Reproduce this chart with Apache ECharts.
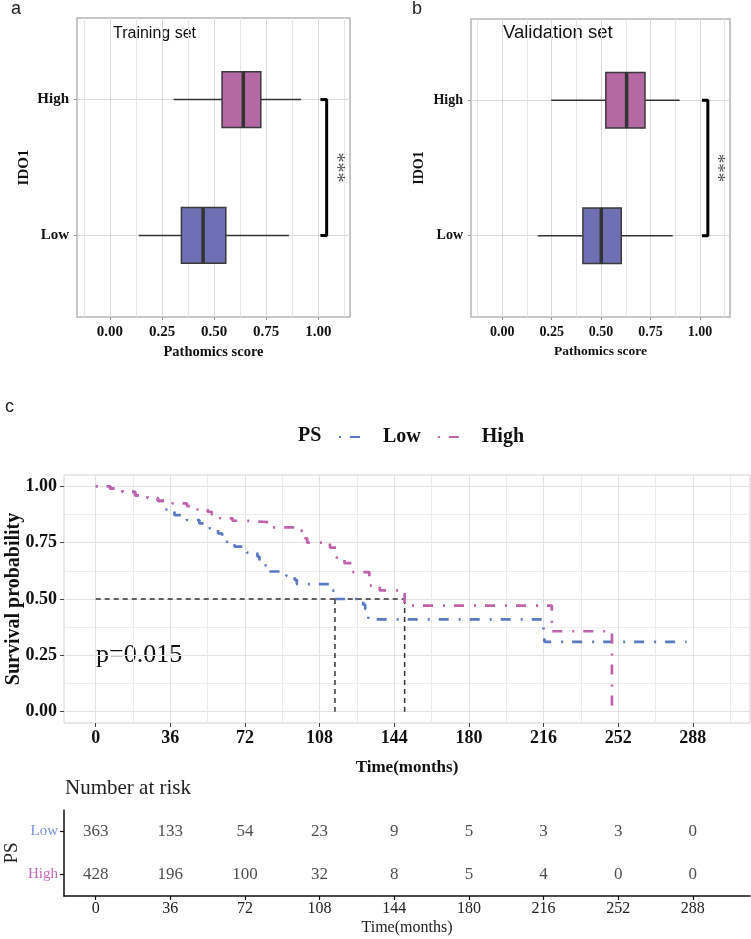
<!DOCTYPE html>
<html>
<head>
<meta charset="utf-8">
<script src="https://cdn.jsdelivr.net/npm/echarts@6/dist/echarts.min.js"></script>
<style>
html,body{margin:0;padding:0;background:#fff}
#chart{width:751px;height:939px}
</style>
</head>
<body>
<div id="chart"></div>
<script>
// 箱线图数据 [min, q1, median, q3, max]，顺序 Low, High
const groups = ['Low', 'High']
const trainBox = [
	[0.138, 0.343, 0.447, 0.556, 0.859],
	[0.306, 0.538, 0.640, 0.724, 0.917]
]
const validBox = [
	[0.180, 0.408, 0.501, 0.602, 0.862],
	[0.248, 0.524, 0.629, 0.722, 0.897]
]
const scoreTicks = [0, 0.25, 0.5, 0.75, 1]
const scoreMinor = [-0.125, 0.125, 0.375, 0.625, 0.875, 1.125]

// 生存曲线 (KM)
const lowTime = [0, 7, 13, 19, 25, 30, 34, 38, 44, 50, 52, 55, 59, 61, 63, 67, 73, 78, 79, 82, 84, 92, 96, 97, 114, 116, 129, 130, 131.5, 216, 216.5, 285]
const lowSurv = [1, 0.99, 0.975, 0.96, 0.948, 0.935, 0.897, 0.872, 0.85, 0.835, 0.823, 0.813, 0.791, 0.776, 0.754, 0.732, 0.706, 0.688, 0.666, 0.647, 0.622, 0.603, 0.585, 0.566, 0.537, 0.5, 0.475, 0.456, 0.41, 0.365, 0.31, 0.31]
const highTime = [0, 7, 13, 19, 25, 30, 37, 44, 49, 54, 56, 60, 66, 73, 85, 99, 101, 102, 113, 116, 120, 123.5, 132, 137, 149, 220, 249]
const highSurv = [1, 0.99, 0.975, 0.96, 0.948, 0.935, 0.924, 0.912, 0.897, 0.887, 0.875, 0.858, 0.847, 0.84, 0.818, 0.803, 0.769, 0.75, 0.728, 0.684, 0.659, 0.619, 0.559, 0.538, 0.471, 0.357, 0]
const medianTimes = [115.4, 149]
const timeTicks = [0, 36, 72, 108, 144, 180, 216, 252, 288]
const timeMinor = [18, 54, 90, 126, 162, 198, 234, 270, 306]
const survTicks = [0, 0.25, 0.5, 0.75, 1]
const survMinor = [0.125, 0.375, 0.625, 0.875]

// 风险表
const riskLow = [363, 133, 54, 23, 9, 5, 3, 3, 0]
const riskHigh = [428, 196, 100, 32, 8, 5, 4, 0, 0]

const serif = 'Liberation Serif'
const sans = 'Liberation Sans'
const boxColors = ['#6f6fb3', '#b569a4']
const lowColor = '#5b7ac2'
const highColor = '#c162ad'
const dotdash = [2, 9, 10, 10]

const chart = echarts.init(document.getElementById('chart'))

function boxItem(colors){
	return (params, api) => {
		const y = api.value(0)
		const p = [1, 2, 3, 4, 5].map(d => api.coord([api.value(d), y]))
		const h = api.size([0, 0.41])[1]
		const line = {stroke: '#333', lineWidth: 1.5}
		return {
			type: 'group',
			children: [
				{type: 'line', shape: {x1: p[0][0], y1: p[0][1], x2: p[1][0], y2: p[1][1]}, style: line},
				{type: 'line', shape: {x1: p[3][0], y1: p[3][1], x2: p[4][0], y2: p[4][1]}, style: line},
				{type: 'rect', shape: {x: p[1][0], y: p[1][1] - h / 2, width: p[3][0] - p[1][0], height: h},
					style: {fill: colors[params.dataIndex], stroke: '#3a3a3a', lineWidth: 1.5}},
				{type: 'line', shape: {x1: p[2][0], y1: p[2][1] - h / 2, x2: p[2][0], y2: p[2][1] + h / 2},
					style: {stroke: '#333', lineWidth: 3.5}}
			]
		}
	}
}

function scoreX(grid, fs){
	return [
		{
			type: 'value', gridIndex: grid, min: -0.158, max: 1.152,
			axisLine: {show: false, onZero: false},
			axisTick: {show: true, customValues: scoreTicks, length: 3, lineStyle: {color: '#999'}},
			axisLabel: {customValues: scoreTicks, formatter: v => v.toFixed(2), fontFamily: serif, fontWeight: 'bold', fontSize: fs, color: '#111', margin: 8},
			splitLine: {show: true, lineStyle: {color: '#dadada', width: 1}},
			name: 'Pathomics score', nameLocation: 'middle', nameGap: 28, nameMoveOverlap: false,
			nameTextStyle: {fontFamily: serif, fontWeight: 'bold', fontSize: fs - 0.5, color: '#111'}
		},
		{
			type: 'value', gridIndex: grid, min: -0.158, max: 1.152, position: 'bottom',
			axisLine: {show: false, onZero: false}, axisTick: {show: false, customValues: scoreMinor}, axisLabel: {show: false},
			splitLine: {show: true, lineStyle: {color: '#e6e6e6', width: 1}}
		}
	]
}

function groupY(grid, fs){
	return {
		type: 'value', gridIndex: grid, min: 0.4, max: 2.6,
		axisLine: {show: false, onZero: false},
		axisTick: {show: true, customValues: [1, 2], length: 3, lineStyle: {color: '#999'}},
		axisLabel: {customValues: [1, 2], formatter: v => groups[v - 1], fontFamily: serif, fontWeight: 'bold', fontSize: fs, color: '#111', margin: 8},
		splitLine: {show: true, lineStyle: {color: '#dadada', width: 1}},
		name: 'IDO1', nameLocation: 'middle', nameGap: 45, nameRotate: 90, nameMoveOverlap: false,
		nameTextStyle: {fontFamily: serif, fontWeight: 'bold', fontSize: fs, color: '#111'}
	}
}

function bracket(xi, yi){
	return {
		type: 'line', xAxisIndex: xi, yAxisIndex: yi, silent: true, symbol: 'none',
		lineStyle: {color: '#000', width: 3},
		data: [[1.01, 1], [1.04, 1], [1.04, 2], [1.01, 2]]
	}
}

function stars(xi, yi, fs){
	return {
		type: 'scatter', xAxisIndex: xi, yAxisIndex: yi, silent: true, symbolSize: 1,
		itemStyle: {color: 'rgba(0,0,0,0)'},
		label: {show: true, position: 'inside', formatter: '***', rotate: -90, fontFamily: serif, fontSize: fs, color: '#222'},
		data: [[1.085, 1.5]]
	}
}

function riskRow(row, counts){
	return {
		type: 'scatter', xAxisIndex: 6, yAxisIndex: 4, symbolSize: 1, silent: true,
		itemStyle: {color: 'rgba(0,0,0,0)'},
		label: {show: true, position: 'inside', formatter: p => String(p.data[2]), fontFamily: serif, fontSize: 17, color: '#222'},
		data: timeTicks.map((t, i) => [t, row, counts[i]])
	}
}

const kmGrid = 2
const option = {
	animation: false,
	backgroundColor: '#fff',
	grid: [
		{left: 77, top: 18, width: 273, height: 299, show: true, borderColor: '#b5b5b5', borderWidth: 1.5, outerBoundsMode: 'none'},
		{left: 471, top: 19, width: 259, height: 298, show: true, borderColor: '#b5b5b5', borderWidth: 1.5, outerBoundsMode: 'none'},
		{left: 64, top: 475, width: 686, height: 248, show: true, borderColor: '#d2d2d2', borderWidth: 1, outerBoundsMode: 'none'},
		{left: 64, top: 810, width: 686, height: 86, outerBoundsMode: 'none'}
	],
	xAxis: [
		...scoreX(0, 15),
		...scoreX(1, 14),
		{
			type: 'value', gridIndex: kmGrid, min: -15.3, max: 315.6,
			axisLine: {show: false, onZero: false},
			axisTick: {show: true, customValues: timeTicks, length: 4, lineStyle: {color: '#444'}},
			axisLabel: {customValues: timeTicks, fontFamily: serif, fontWeight: 'bold', fontSize: 18, color: '#111', margin: 6},
			splitLine: {show: true, lineStyle: {color: '#e3e3e3', width: 1}},
			name: 'Time(months)', nameLocation: 'middle', nameGap: 36, nameMoveOverlap: false,
			nameTextStyle: {fontFamily: serif, fontWeight: 'bold', fontSize: 17, color: '#111'}
		},
		{
			type: 'value', gridIndex: kmGrid, min: -15.3, max: 315.6, position: 'bottom',
			axisLine: {show: false, onZero: false}, axisTick: {show: false, customValues: timeMinor}, axisLabel: {show: false},
			splitLine: {show: true, lineStyle: {color: '#ececec', width: 1}}
		},
		{
			type: 'value', gridIndex: 3, min: -15.3, max: 315.6,
			axisLine: {show: true, onZero: false, lineStyle: {color: '#111', width: 1.5}},
			axisTick: {show: true, customValues: timeTicks, length: 4, lineStyle: {color: '#111', width: 1.2}},
			axisLabel: {customValues: timeTicks, fontFamily: serif, fontSize: 16, color: '#222', margin: 5},
			splitLine: {show: false},
			name: 'Time(months)', nameLocation: 'middle', nameGap: 24, nameMoveOverlap: false,
			nameTextStyle: {fontFamily: serif, fontSize: 16, color: '#222'}
		}
	],
	yAxis: [
		groupY(0, 15),
		groupY(1, 14),
		{
			type: 'value', gridIndex: kmGrid, min: -0.05, max: 1.05,
			axisLine: {show: false, onZero: false},
			axisTick: {show: true, customValues: survTicks, length: 4, lineStyle: {color: '#444'}},
			axisLabel: {customValues: survTicks, formatter: v => v.toFixed(2), fontFamily: serif, fontWeight: 'bold', fontSize: 18, color: '#111', margin: 7},
			splitLine: {show: true, lineStyle: {color: '#e3e3e3', width: 1}},
			name: 'Survival probability', nameLocation: 'middle', nameGap: 40, nameRotate: 90, nameMoveOverlap: false,
			nameTextStyle: {fontFamily: serif, fontWeight: 'bold', fontSize: 20, color: '#111'}
		},
		{
			type: 'value', gridIndex: kmGrid, min: -0.05, max: 1.05, position: 'left',
			axisLine: {show: false, onZero: false}, axisTick: {show: false, customValues: survMinor}, axisLabel: {show: false},
			splitLine: {show: true, lineStyle: {color: '#ececec', width: 1}}
		},
		{
			type: 'value', gridIndex: 3, min: 0.5, max: 2.5,
			axisLine: {show: true, onZero: false, lineStyle: {color: '#111', width: 1.5}},
			axisTick: {show: true, customValues: [1, 2], length: 4, lineStyle: {color: '#111', width: 1.2}},
			axisLabel: {
				customValues: [1, 2], margin: 6, fontFamily: serif, fontSize: 15,
				formatter: v => v === 2 ? '{l|Low}' : '{h|High}',
				rich: {l: {color: '#7a8fd6', fontFamily: serif, fontSize: 15}, h: {color: '#c968b9', fontFamily: serif, fontSize: 15}}
			},
			splitLine: {show: false},
			name: 'PS', nameLocation: 'middle', nameGap: 42, nameRotate: 90, nameMoveOverlap: false,
			nameTextStyle: {fontFamily: serif, fontSize: 19, color: '#222'}
		}
	],
	legend: {
		data: ['Low', 'High'], left: 333, top: 422, itemWidth: 23, itemHeight: 14, itemGap: 16,
		itemStyle: {opacity: 0},
		textStyle: {fontFamily: serif, fontWeight: 'bold', fontSize: 20, color: '#111', padding: [0, 0, 0, 16]}
	},
	series: [
		{
			type: 'custom', name: 'train', xAxisIndex: 0, yAxisIndex: 0,
			renderItem: boxItem(boxColors),
			encode: {x: [1, 2, 3, 4, 5], y: 0},
			data: trainBox.map((b, i) => [i + 1, ...b])
		},
		bracket(0, 0),
		stars(0, 0, 20),
		{
			type: 'custom', name: 'valid', xAxisIndex: 2, yAxisIndex: 1,
			renderItem: boxItem(boxColors),
			encode: {x: [1, 2, 3, 4, 5], y: 0},
			data: validBox.map((b, i) => [i + 1, ...b])
		},
		bracket(2, 1),
		stars(2, 1, 19),
		// 中位生存时间虚线
		{
			type: 'line', xAxisIndex: 4, yAxisIndex: 2, symbol: 'none', silent: true,
			lineStyle: {color: '#333', width: 1.5, type: [5, 4]},
			data: [[0, 0.5], [medianTimes[1], 0.5]]
		},
		...medianTimes.map(t => ({
			type: 'line', xAxisIndex: 4, yAxisIndex: 2, symbol: 'none', silent: true,
			lineStyle: {color: '#333', width: 1.5, type: [5, 4]},
			data: [[t, 0.5], [t, 0]]
		})),
		{
			type: 'line', name: 'Low', xAxisIndex: 4, yAxisIndex: 2, step: 'end', symbol: 'none',
			color: lowColor,
			lineStyle: {color: lowColor, width: 2.7, type: dotdash},
			data: lowTime.map((t, i) => [t, lowSurv[i]])
		},
		{
			type: 'line', name: 'High', xAxisIndex: 4, yAxisIndex: 2, step: 'end', symbol: 'none',
			color: highColor,
			lineStyle: {color: highColor, width: 2.7, type: dotdash},
			data: highTime.map((t, i) => [t, highSurv[i]])
		},
		riskRow(2, riskLow),
		riskRow(1, riskHigh)
	],
	graphic: [
		{type: 'text', left: 11, top: 0, style: {text: 'a', fontFamily: sans, fontSize: 18, fill: '#222'}},
		{type: 'text', left: 412, top: 0, style: {text: 'b', fontFamily: sans, fontSize: 18, fill: '#222'}},
		{type: 'text', left: 5, top: 398, style: {text: 'c', fontFamily: sans, fontSize: 18, fill: '#222'}},
		{type: 'text', left: 113, top: 26, style: {text: 'Training set', fontFamily: sans, fontSize: 16, fill: '#111'}},
		{type: 'text', left: 503, top: 23, style: {text: 'Validation set', fontFamily: sans, fontSize: 18.5, fill: '#111'}},
		{type: 'text', left: 298, top: 426, style: {text: 'PS', fontFamily: serif, fontWeight: 'bold', fontSize: 20, fill: '#111'}},
		{type: 'text', left: 96, top: 642, style: {text: 'p=0.015', fontFamily: serif, fontSize: 26, fill: '#111'}},
		{type: 'text', left: 65, top: 778, style: {text: 'Number at risk', fontFamily: serif, fontSize: 21, fill: '#222'}}
	]
}
chart.setOption(option)
</script>
</body>
</html>
